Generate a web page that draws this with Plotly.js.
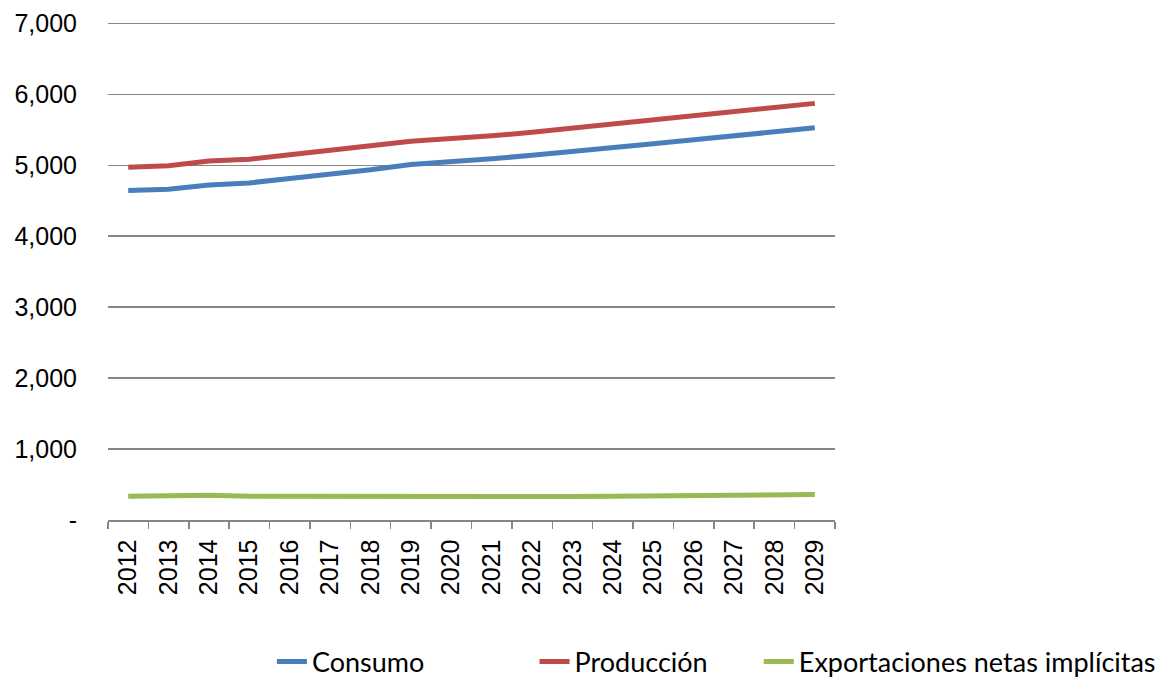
<!DOCTYPE html>
<html>
<head>
<meta charset="utf-8">
<script src="https://cdn.plot.ly/plotly-3.0.1.min.js"></script>
<style>html,body{margin:0;padding:0;background:#fff;}#chart{width:1162px;height:679px;}</style>
</head>
<body>
<div id="chart"></div>
<script>
const years = ["2012","2013","2014","2015","2016","2017","2018","2019","2020","2021","2022","2023","2024","2025","2026","2027","2028","2029"];
const consumo = [4645,4662,4722,4752,4815,4873,4937,5012,5049,5092,5141,5190,5246,5303,5359,5415,5472,5528];
const produccion = [4972,4993,5060,5085,5148,5204,5275,5338,5373,5415,5465,5521,5577,5641,5697,5754,5817,5873];
const exportaciones = [335,340,350,335,333,325,330,330,330,330,325,330,335,342,345,348,358,360];
const yTickVals = [0,1000,2000,3000,4000,5000,6000,7000];
const yTickText = ["-","1,000","2,000","3,000","4,000","5,000","6,000","7,000"];

const mk = (name, y, color, leg) => ({
  type: "scatter", mode: "lines", name: name, x: years, y: y, legend: leg,
  line: {color: color, width: 5}
});
const data = [
  mk("Consumo", consumo, "#4A7EBB", "legend"),
  mk("Producción", produccion, "#BE4B48", "legend2"),
  mk("Exportaciones netas implícitas", exportaciones, "#98B954", "legend3")
];
const legFont = {family: "Lato, sans-serif", size: 27, color: "#000"};
const legBase = (x) => ({
  xref: "container", yref: "container", x: x, xanchor: "left",
  y: 0.025, yanchor: "middle", orientation: "h",
  font: legFont, bgcolor: "rgba(0,0,0,0)", borderwidth: 0
});
const layout = {
  width: 1162, height: 679,
  margin: {l: 108, r: 327, t: 22, b: 159},
  paper_bgcolor: "#fff", plot_bgcolor: "#fff",
  font: {family: "Liberation Sans, Arial, sans-serif", color: "#000", size: 20},
  showlegend: true,
  legend: legBase(0.234),
  legend2: legBase(0.460),
  legend3: legBase(0.653),
  xaxis: {
    type: "category", range: [-0.5, 17.5], tickangle: -90, tickson: "boundaries",
    ticks: "outside", ticklen: 7, tickcolor: "#868686", tickwidth: 1.5,
    showline: true, linecolor: "#868686", linewidth: 1.5,
    showgrid: false, zeroline: false, automargin: false,
    tickfont: {size: 25, family: "Liberation Sans, Arial, sans-serif"},
    ticklabelstandoff: 8
  },
  yaxis: {
    range: [0, 7020], tickvals: yTickVals, ticktext: yTickText,
    showgrid: true, gridcolor: "#868686", gridwidth: 1.5,
    showline: false, zeroline: false, ticks: "", automargin: false,
    ticklabelstandoff: 30,
    tickfont: {size: 25, family: "Liberation Sans, Arial, sans-serif"}
  }
};
Plotly.newPlot("chart", data, layout, {displayModeBar: false, staticPlot: true});
</script>
</body>
</html>
